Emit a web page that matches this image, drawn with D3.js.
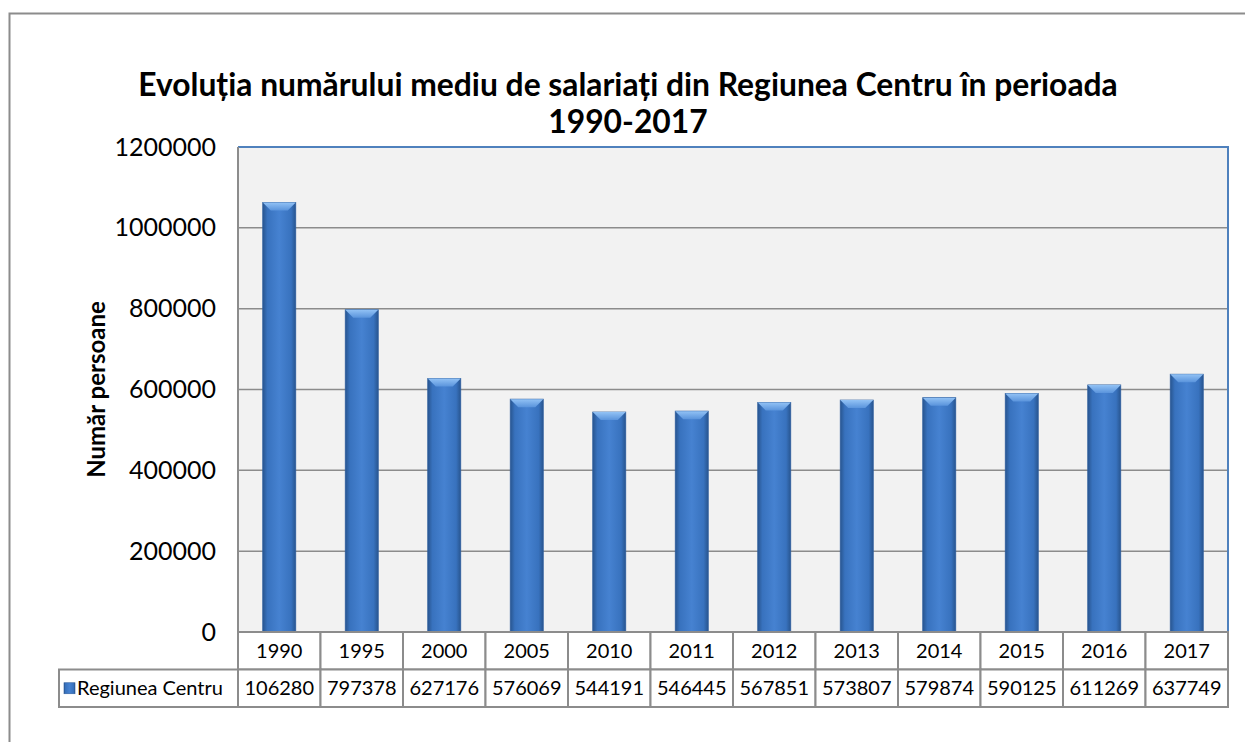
<!DOCTYPE html>
<meta charset="utf-8">
<style>
html, body { margin: 0; background: #fff; overflow: hidden; }
svg { display: block; }
text { font-family: Lato, "Open Sans", sans-serif; fill: #000; }
.grid line { stroke: #8c8c8c; stroke-width: 1.5px; }
.cell { fill: #fff; stroke: #8c8c8c; stroke-width: 2px; }
</style>
<body>
<svg width="1245" height="742"></svg>
<script src="https://cdnjs.cloudflare.com/ajax/libs/d3/7.8.5/d3.min.js"></script>
<script>

var years = ["1990", "1995", "2000", "2005", "2010", "2011", "2012", "2013", "2014", "2015", "2016", "2017"];
var values = [1062800, 797378, 627176, 576069, 544191, 546445, 567851, 573807, 579874, 590125, 611269, 637749];
var yTicks = [0, 200000, 400000, 600000, 800000, 1000000, 1200000];
var seriesName = "Regiunea Centru";
var titleLines = ["Evoluția numărului mediu de salariați din Regiunea Centru în perioada", "1990-2017"];
var yLabel = "Număr persoane";

var plot = {left: 238, right: 1228, top: 147, bottom: 632},
    rowH = 37.5,
    legendLeft = 59;

var svg = d3.select("svg");

var defs = svg.append("defs");
var grad = defs.append("linearGradient").attr("id", "barGrad")
    .attr("x1", "0%").attr("x2", "100%").attr("y1", "0%").attr("y2", "0%");
grad.append("stop").attr("offset", "0%").attr("stop-color", "#28558f");
grad.append("stop").attr("offset", "14%").attr("stop-color", "#3872be");
grad.append("stop").attr("offset", "50%").attr("stop-color", "#4682d1");
grad.append("stop").attr("offset", "86%").attr("stop-color", "#3872be");
grad.append("stop").attr("offset", "100%").attr("stop-color", "#28558f");

var bevel = defs.append("linearGradient").attr("id", "bevelGrad")
    .attr("x1", "0%").attr("x2", "0%").attr("y1", "0%").attr("y2", "100%");
bevel.append("stop").attr("offset", "0%").attr("stop-color", "#92c2f5");
bevel.append("stop").attr("offset", "100%").attr("stop-color", "#5a94dc");

// outer chart border (right and bottom fall outside the picture)
svg.append("path")
    .attr("d", "M9.5,760V13.5H1260")
    .attr("fill", "none").attr("stroke", "#8c8c8c").attr("stroke-width", 2);

// title
svg.append("g").selectAll("text")
    .data(titleLines)
  .enter().append("text")
    .attr("x", 628)
    .attr("y", function(d, i) { return 96 + i * 37; })
    .attr("text-anchor", "middle")
    .style("font-size", "31.8px")
    .style("font-weight", "bold")
    .text(function(d) { return d; });

var x = d3.scaleBand()
    .domain(years)
    .range([plot.left, plot.right])
    .paddingInner(0.6)
    .paddingOuter(0.3);

var xCell = d3.scaleBand()
    .domain(years)
    .range([plot.left, plot.right]);

var y = d3.scaleLinear()
    .domain([0, 1200000])
    .range([plot.bottom, plot.top]);

// plot area
svg.append("rect")
    .attr("x", plot.left).attr("y", plot.top)
    .attr("width", plot.right - plot.left).attr("height", plot.bottom - plot.top)
    .attr("fill", "#f2f2f2");

svg.append("g").attr("class", "grid")
  .selectAll("line")
    .data(yTicks.slice(1, -1))
  .enter().append("line")
    .attr("x1", plot.left).attr("x2", plot.right)
    .attr("y1", function(d) { return y(d); })
    .attr("y2", function(d) { return y(d); });

// blue top and right frame, grey axis on the left
svg.append("path")
    .attr("d", "M" + plot.left + "," + plot.top + "H" + plot.right + "V" + plot.bottom)
    .attr("fill", "none").attr("stroke", "#4f81bd").attr("stroke-width", 2);
svg.append("line")
    .attr("x1", plot.left).attr("x2", plot.left)
    .attr("y1", plot.top).attr("y2", plot.bottom)
    .attr("stroke", "#8c8c8c").attr("stroke-width", 2);

// y axis labels
var yAxis = svg.append("g")
    .attr("transform", "translate(" + (plot.left - 22) + ",0)")
    .call(d3.axisLeft(y).tickValues(yTicks).tickSize(0).tickPadding(0).tickFormat(d3.format("d")));
yAxis.select(".domain").remove();
yAxis.selectAll("text")
    .style("font-family", "Lato, sans-serif")
    .style("font-size", "25px")
    .attr("fill", "#000");

svg.append("text")
    .attr("transform", "translate(105," + ((plot.top + plot.bottom) / 2) + ") rotate(-90)")
    .attr("text-anchor", "middle")
    .style("font-size", "24px")
    .style("font-weight", "bold")
    .text(yLabel);

// bars
var bars = svg.append("g").selectAll("g")
    .data(years)
  .enter().append("g");

bars.append("rect")
    .attr("x", function(d) { return x(d); })
    .attr("y", function(d, i) { return y(values[i]); })
    .attr("width", x.bandwidth())
    .attr("height", function(d, i) { return plot.bottom - y(values[i]); })
    .attr("fill", "url(#barGrad)")
    .attr("stroke", "#2f5f9e").attr("stroke-width", 0.8);

bars.append("path")
    .attr("d", function(d, i) {
      var x0 = x(d), x1 = x(d) + x.bandwidth(), t = y(values[i]), b = 8;
      return "M" + x0 + "," + t + "H" + x1 + "L" + (x1 - b) + "," + (t + b) + "H" + (x0 + b) + "Z";
    })
    .attr("fill", "url(#bevelGrad)");

// data table
var table = svg.append("g");

table.selectAll(".yearCell")
    .data(years)
  .enter().append("rect")
    .attr("class", "cell")
    .attr("x", function(d) { return xCell(d); })
    .attr("y", plot.bottom)
    .attr("width", xCell.bandwidth())
    .attr("height", rowH);

table.selectAll(".valCell")
    .data(years)
  .enter().append("rect")
    .attr("class", "cell")
    .attr("x", function(d) { return xCell(d); })
    .attr("y", plot.bottom + rowH)
    .attr("width", xCell.bandwidth())
    .attr("height", rowH);

table.append("rect")
    .attr("class", "cell")
    .attr("x", legendLeft)
    .attr("y", plot.bottom + rowH)
    .attr("width", plot.left - legendLeft)
    .attr("height", rowH);

table.selectAll(".yearText")
    .data(years)
  .enter().append("text")
    .attr("x", function(d) { return xCell(d) + xCell.bandwidth() / 2; })
    .attr("y", plot.bottom + rowH / 2)
    .attr("dy", "0.36em")
    .attr("text-anchor", "middle")
    .style("font-size", "20px")
    .text(function(d) { return d; });

// Excel cut the over-wide first value down to six digits
table.selectAll(".valText")
    .data(values)
  .enter().append("text")
    .attr("x", function(d, i) { return xCell(years[i]) + xCell.bandwidth() / 2; })
    .attr("y", plot.bottom + rowH * 1.5)
    .attr("dy", "0.36em")
    .attr("text-anchor", "middle")
    .style("font-size", "20px")
    .text(function(d) { return String(d).slice(0, 6); });

// legend key
table.append("rect")
    .attr("x", legendLeft + 5).attr("y", plot.bottom + rowH * 1.5 - 5.5)
    .attr("width", 11).attr("height", 11)
    .attr("fill", "url(#barGrad)").attr("stroke", "#2f5f9e").attr("stroke-width", 0.6);

table.append("text")
    .attr("x", legendLeft + 18)
    .attr("y", plot.bottom + rowH * 1.5)
    .attr("dy", "0.36em")
    .style("font-size", "20px")
    .text(seriesName);

</script>
